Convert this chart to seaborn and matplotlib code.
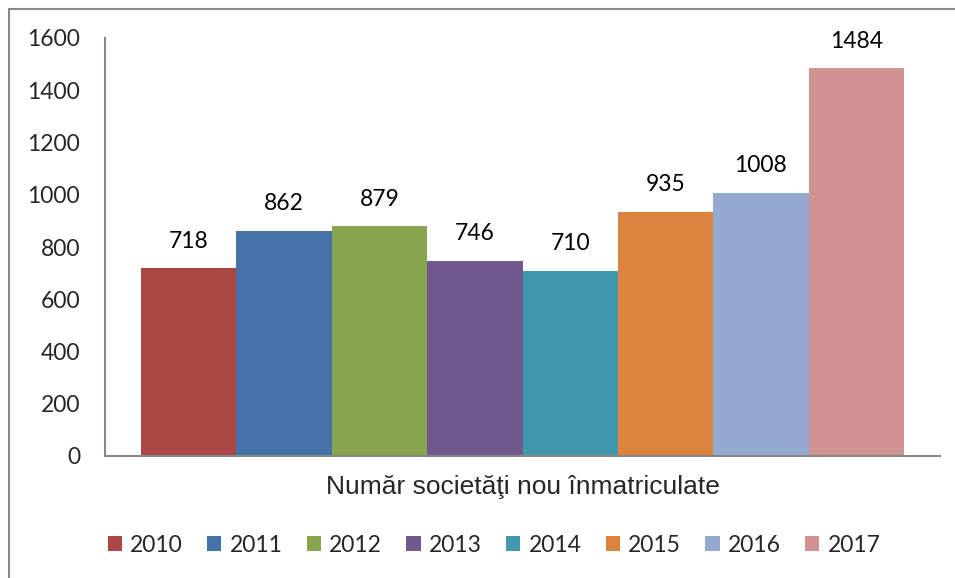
#!/usr/bin/env python3

import numpy as np
import pandas as pd
import matplotlib as mpl
mpl.use('Agg')
import matplotlib.pyplot as plt
from matplotlib.lines import Line2D
from matplotlib.patches import Patch
import seaborn as sns

sns.set_style('white')

# Data
years = ['2010', '2011', '2012', '2013', '2014', '2015', '2016', '2017']
counts = [718, 862, 879, 746, 710, 935, 1008, 1484]
colors = ['#AA4643', '#4572A7', '#89A54E', '#71588F',
          '#4198AF', '#DB843D', '#93A9CF', '#D19392']
xlabel = 'Număr societăţi nou înmatriculate'
yticks = [0, 200, 400, 600, 800, 1000, 1200, 1400, 1600]

plt.rcParams['font.family'] = ['Lato', 'DejaVu Sans']

W, H = 955, 578
fig = plt.figure(figsize=(W / 100, H / 100), dpi=100)
# axes box in pixel coordinates: left 105, right 940, top 38, bottom 456
ax = fig.add_axes([105 / W, 1 - 456 / H, (940 - 105) / W, (456 - 38) / H])

d = pd.DataFrame({'year': years, 'count': counts})
sns.barplot(data=d, x='year', y='count', hue='year', palette=colors,
            width=1.0, dodge=False, legend=False, ax=ax, saturation=1,
            linewidth=0)

for i, v in enumerate(counts):
    ax.annotate(str(v), (i, v), xytext=(0, 12), textcoords='offset points',
                ha='center', va='bottom', fontsize=16.5, color='black')

ax.set_xlim(-0.877, 7.877)
ax.set_ylim(0, 1600)
ax.set_yticks(yticks)
ax.set_yticklabels([str(t) for t in yticks], fontsize=16.5)
ax.tick_params(axis='y', length=0, pad=18)
ax.set_xticks([])
ax.set_xlabel(xlabel, fontsize=19, family=['Liberation Sans', 'DejaVu Sans'],
              labelpad=14)
ax.set_ylabel('')

sns.despine(ax=ax, top=True, right=True)
for s in ('left', 'bottom'):
    ax.spines[s].set_color('#868686')
    ax.spines[s].set_linewidth(1.5)
ax.grid(False)

handles = [Patch(facecolor=c, edgecolor='none') for c in colors]
fig.legend(handles, years, loc='center', bbox_to_anchor=(494 / W, 1 - 545 / H),
           ncol=8, frameon=False, fontsize=16.5, handlelength=0.63,
           handleheight=0.63, handletextpad=0.36, columnspacing=1.05)

# outer chart border (only top and left edges visible in the crop)
fig.add_artist(Line2D([9 / W, 9 / W], [0, 1 - 9 / H], transform=fig.transFigure,
                      color='#868686', lw=1.5))
fig.add_artist(Line2D([9 / W, 1], [1 - 9 / H, 1 - 9 / H], transform=fig.transFigure,
                      color='#868686', lw=1.5))

fig.savefig('out.png', dpi=100)
